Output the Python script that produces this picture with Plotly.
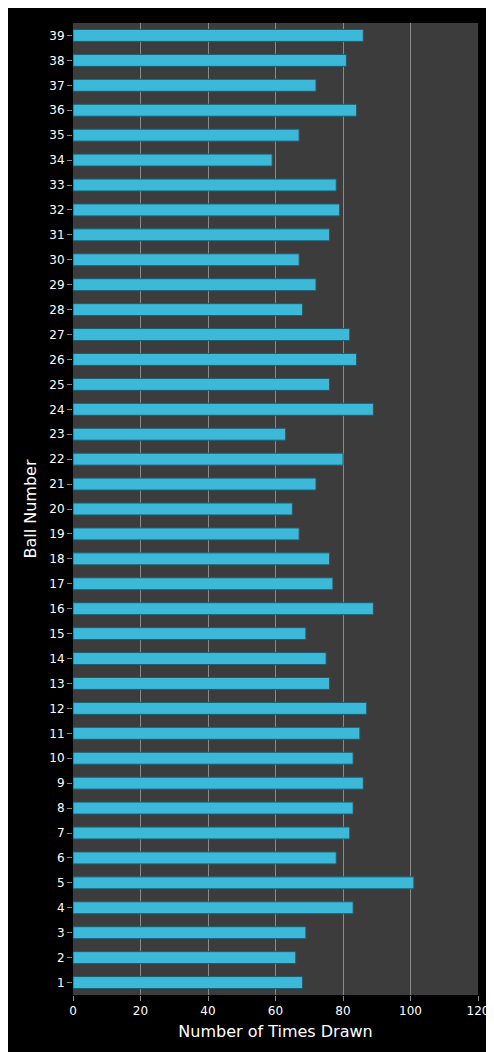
import plotly.graph_objects as go

balls = [str(i) for i in range(1, 40)]
times_drawn = [68, 66, 69, 83, 101, 78, 82, 83, 86, 83,
               85, 87, 76, 75, 69, 89, 77, 76, 67, 65,
               72, 80, 63, 89, 76, 84, 82, 68, 72, 67,
               76, 79, 78, 59, 67, 84, 72, 81, 86]
x_ticks = [0, 20, 40, 60, 80, 100, 120]

fig = go.Figure(go.Bar(
    x=times_drawn, y=balls, orientation="h",
    marker=dict(color="#3cb9d9", line=dict(color="#1a5f73", width=1)),
))

fig.update_layout(
    width=494, height=1052,
    paper_bgcolor="black", plot_bgcolor="#3c3c3c",
    margin=dict(l=65, r=24, t=15, b=65),
    bargap=0.52,
    showlegend=False,
    font=dict(family="DejaVu Sans", color="white", size=12),
)
fig.update_xaxes(
    range=[0, 120], tickvals=x_ticks, showgrid=True, gridcolor="#8a8a8a",
    gridwidth=1, zeroline=False, ticks="outside", tickcolor="#888",
    title=dict(text="Number of Times Drawn", font=dict(size=16), standoff=8),
    tickfont=dict(size=12), automargin=False,
)
fig.update_yaxes(
    categoryorder="array", categoryarray=balls, showgrid=False,
    ticks="outside", tickcolor="#888", ticklen=5,
    title=dict(text="Ball Number", font=dict(size=16), standoff=8),
    tickfont=dict(size=12), automargin=False,
)

fig.write_html("out.html")
